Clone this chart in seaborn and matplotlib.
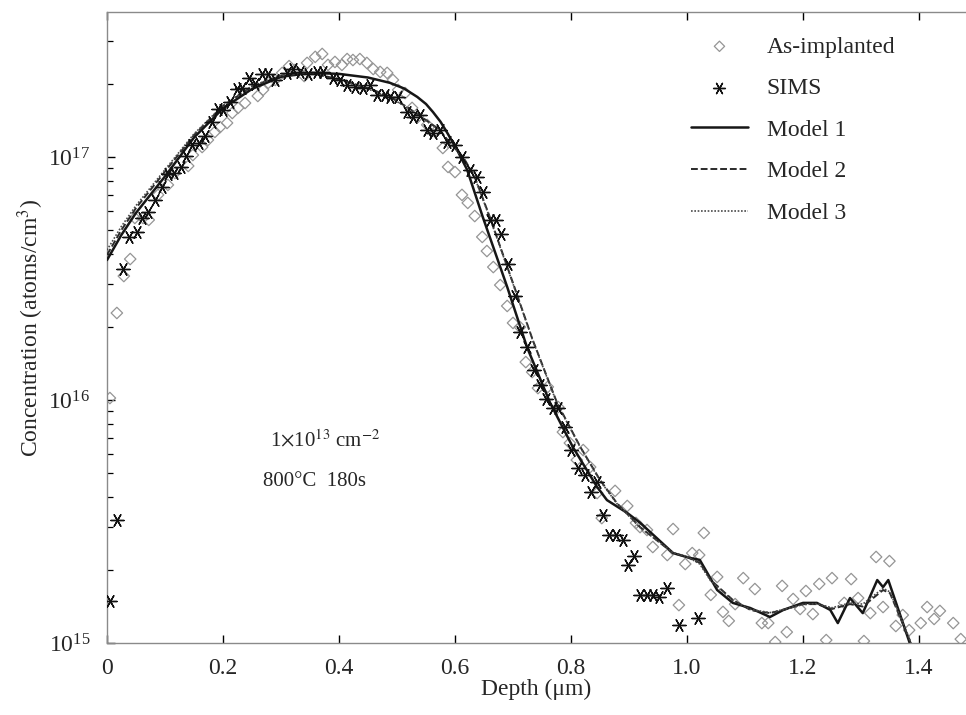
import numpy as np
import pandas as pd
import matplotlib
matplotlib.use("Agg")
import matplotlib.pyplot as plt
from matplotlib.ticker import LogLocator, LogFormatterMathtext, NullFormatter, MultipleLocator
import seaborn as sns

# --- data (depth in um, log10 of concentration in atoms/cm^3) ---
implant_depth = [0.005, 0.017, 0.029, 0.040, 0.048, 0.062, 0.072, 0.088, 0.105, 0.117,
                 0.140, 0.148, 0.164, 0.174, 0.186, 0.195, 0.207, 0.216, 0.226, 0.238,
                 0.260, 0.269, 0.278, 0.290, 0.302, 0.314, 0.324, 0.340, 0.345, 0.359,
                 0.371, 0.381, 0.393, 0.405, 0.414, 0.424, 0.436, 0.448, 0.459, 0.471,
                 0.483, 0.493, 0.502, 0.514, 0.526, 0.536, 0.552, 0.566, 0.579, 0.588,
                 0.600, 0.612, 0.622, 0.634, 0.647, 0.655, 0.666, 0.678, 0.690, 0.700,
                 0.712, 0.722, 0.733, 0.743, 0.760, 0.778, 0.786, 0.798, 0.810, 0.821,
                 0.833, 0.845, 0.853, 0.876, 0.897, 0.912, 0.919, 0.931, 0.941, 0.966,
                 0.976, 0.986, 0.997, 1.009, 1.021, 1.029, 1.041, 1.052, 1.062, 1.072,
                 1.083, 1.097, 1.117, 1.129, 1.140, 1.152, 1.164, 1.172, 1.183, 1.195,
                 1.205, 1.217, 1.228, 1.240, 1.250, 1.271, 1.283, 1.295, 1.305, 1.316,
                 1.326, 1.338, 1.349, 1.360, 1.372, 1.383, 1.403, 1.414, 1.426, 1.436,
                 1.459, 1.472]
implant_logc = [16.008, 16.358, 16.510, 16.580, 16.749, 16.749, 16.741, 16.844, 16.885, 16.934,
                16.963, 17.008, 17.041, 17.070, 17.103, 17.123, 17.140, 17.181, 17.202, 17.222,
                17.251, 17.276, 17.305, 17.317, 17.346, 17.374, 17.358, 17.333, 17.387, 17.412,
                17.424, 17.379, 17.391, 17.379, 17.403, 17.399, 17.403, 17.387, 17.362, 17.350,
                17.346, 17.317, 17.276, 17.263, 17.202, 17.165, 17.132, 17.103, 17.037, 16.959,
                16.938, 16.844, 16.811, 16.757, 16.671, 16.613, 16.547, 16.473, 16.387, 16.317,
                16.300, 16.156, 16.115, 16.049, 16.054, 15.971, 15.868, 15.823, 15.753, 15.794,
                15.724, 15.617, 15.514, 15.626, 15.564, 15.494, 15.477, 15.465, 15.395, 15.362,
                15.469, 15.156, 15.325, 15.370, 15.362, 15.453, 15.198, 15.272, 15.128, 15.091,
                15.160, 15.267, 15.222, 15.082, 15.082, 15.004, 15.235, 15.045, 15.181, 15.140,
                15.214, 15.119, 15.243, 15.012, 15.267, 15.165, 15.263, 15.185, 15.008, 15.123,
                15.354, 15.148, 15.337, 15.070, 15.115, 15.053, 15.082, 15.148, 15.099, 15.132,
                15.082, 15.016]

sims_depth = [0.005, 0.017, 0.028, 0.038, 0.052, 0.060, 0.071, 0.083, 0.095, 0.105,
              0.116, 0.128, 0.136, 0.147, 0.159, 0.169, 0.181, 0.191, 0.200, 0.212,
              0.224, 0.233, 0.245, 0.255, 0.267, 0.278, 0.290, 0.310, 0.321, 0.333,
              0.347, 0.362, 0.372, 0.390, 0.402, 0.414, 0.428, 0.441, 0.453, 0.466,
              0.479, 0.488, 0.502, 0.517, 0.528, 0.540, 0.552, 0.562, 0.574, 0.586,
              0.600, 0.612, 0.626, 0.638, 0.648, 0.660, 0.671, 0.679, 0.691, 0.703,
              0.712, 0.724, 0.736, 0.747, 0.757, 0.769, 0.778, 0.790, 0.800, 0.812,
              0.824, 0.834, 0.845, 0.855, 0.866, 0.878, 0.890, 0.898, 0.909, 0.919,
              0.931, 0.941, 0.952, 0.966, 0.986, 1.019]
sims_logc = [15.173, 15.506, 16.539, 16.671, 16.691, 16.749, 16.774, 16.823, 16.877, 16.930,
             16.934, 16.959, 17.004, 17.049, 17.058, 17.086, 17.144, 17.198, 17.193, 17.226,
             17.280, 17.284, 17.325, 17.300, 17.342, 17.342, 17.317, 17.346, 17.362, 17.350,
             17.342, 17.350, 17.350, 17.325, 17.317, 17.296, 17.288, 17.284, 17.296, 17.255,
             17.255, 17.247, 17.247, 17.185, 17.165, 17.173, 17.111, 17.099, 17.111, 17.062,
             17.049, 17.000, 16.947, 16.918, 16.856, 16.741, 16.741, 16.683, 16.560, 16.428,
             16.280, 16.218, 16.123, 16.062, 16.004, 15.967, 15.967, 15.889, 15.794, 15.720,
             15.691, 15.621, 15.663, 15.527, 15.444, 15.444, 15.424, 15.321, 15.358, 15.198,
             15.198, 15.198, 15.189, 15.226, 15.074, 15.103]

model1_depth = [0.000, 0.025, 0.050, 0.100, 0.150, 0.200, 0.250, 0.300, 0.350, 0.400,
                0.450, 0.488, 0.512, 0.535, 0.550, 0.562, 0.575, 0.586, 0.603, 0.621,
                0.648, 0.690, 0.724, 0.764, 0.803, 0.845, 0.862, 0.897, 0.919, 0.976,
                1.005, 1.022, 1.052, 1.079, 1.109, 1.143, 1.166, 1.200, 1.224, 1.247,
                1.260, 1.281, 1.303, 1.328, 1.338, 1.347, 1.384, 1.392]
model1_logc = [16.576, 16.680, 16.770, 16.920, 17.080, 17.200, 17.280, 17.330, 17.346, 17.342,
               17.327, 17.305, 17.282, 17.247, 17.218, 17.185, 17.145, 17.102, 17.032, 16.947,
               16.752, 16.465, 16.218, 15.988, 15.807, 15.642, 15.588, 15.535, 15.495, 15.370,
               15.350, 15.342, 15.218, 15.165, 15.144, 15.107, 15.136, 15.165, 15.165, 15.136,
               15.082, 15.185, 15.123, 15.259, 15.230, 15.259, 15.000, 14.950]

model2_depth = [0.000, 0.025, 0.050, 0.100, 0.150, 0.200, 0.250, 0.300, 0.350, 0.400,
                0.459, 0.488, 0.517, 0.545, 0.574, 0.591, 0.614, 0.634, 0.660, 0.700,
                0.734, 0.776, 0.816, 0.850, 0.879, 0.919, 0.976, 1.000, 1.022, 1.041,
                1.079, 1.110, 1.143, 1.166, 1.200, 1.224, 1.250, 1.281, 1.303, 1.338,
                1.350, 1.384, 1.392]
model2_logc = [16.597, 16.700, 16.790, 16.940, 17.090, 17.210, 17.290, 17.335, 17.346, 17.320,
               17.276, 17.247, 17.206, 17.160, 17.111, 17.058, 17.000, 16.918, 16.753, 16.481,
               16.247, 15.988, 15.807, 15.671, 15.576, 15.477, 15.370, 15.354, 15.330, 15.259,
               15.177, 15.135, 15.123, 15.136, 15.160, 15.160, 15.140, 15.160, 15.150, 15.218,
               15.205, 15.010, 14.950]

model3_depth = [0.000, 0.025, 0.050, 0.100, 0.150, 0.200, 0.250, 0.300, 0.350, 0.400,
                0.459, 0.488, 0.517, 0.545, 0.574, 0.591, 0.614, 0.634, 0.660, 0.700,
                0.734, 0.776, 0.816, 0.850, 0.879, 0.919, 0.976, 1.000, 1.022, 1.041,
                1.079, 1.110, 1.143, 1.166, 1.200, 1.224, 1.250, 1.281, 1.303, 1.338,
                1.350, 1.384, 1.392]
model3_logc = [16.617, 16.715, 16.800, 16.948, 17.095, 17.212, 17.292, 17.336, 17.346, 17.318,
               17.272, 17.244, 17.204, 17.158, 17.108, 17.056, 16.998, 16.915, 16.750, 16.478,
               16.245, 15.985, 15.805, 15.668, 15.574, 15.475, 15.372, 15.356, 15.325, 15.255,
               15.175, 15.138, 15.125, 15.138, 15.158, 15.162, 15.145, 15.165, 15.160, 15.225,
               15.210, 15.015, 14.950]

implant = pd.DataFrame({"depth": implant_depth, "conc": 10 ** np.array(implant_logc)})
sims = pd.DataFrame({"depth": sims_depth, "conc": 10 ** np.array(sims_logc)})
m1 = pd.DataFrame({"depth": model1_depth, "conc": 10 ** np.array(model1_logc)})
m2 = pd.DataFrame({"depth": model2_depth, "conc": 10 ** np.array(model2_logc)})
m3 = pd.DataFrame({"depth": model3_depth, "conc": 10 ** np.array(model3_logc)})

sns.set_style("ticks")
plt.rcParams["font.family"] = ["Liberation Serif", "DejaVu Serif"]
plt.rcParams["mathtext.fontset"] = "stix"

fig = plt.figure(figsize=(9.66, 7.15), dpi=100)
ax = fig.add_axes([107 / 966, 72 / 715, 859 / 966, 631 / 715])

asterisk = (6, 2, 90)
sns.scatterplot(data=implant, x="depth", y="conc", marker="D", s=34, facecolor="none",
                edgecolor="#959595", linewidth=0.9, ax=ax, label="As-implanted", zorder=2)
sns.lineplot(data=m1, x="depth", y="conc", color="#161616", lw=1.8, sort=False,
             estimator=None, ax=ax, label="Model 1", zorder=3)
sns.lineplot(data=m2, x="depth", y="conc", color="#2a2a2a", lw=1.4, sort=False,
             estimator=None, ax=ax, label="Model 2", zorder=3)
sns.lineplot(data=m3, x="depth", y="conc", color="#4a4a4a", lw=1.2, sort=False,
             estimator=None, ax=ax, label="Model 3", zorder=3)
ax.lines[1].set_dashes([3.5, 1.5])
ax.lines[2].set_dashes([1, 1])
sns.scatterplot(data=sims, x="depth", y="conc", marker=asterisk, s=90, color="#111111",
                linewidth=1.0, ax=ax, label="SIMS", zorder=4)

ax.set_yscale("log")
ax.set_xlim(0, 1.481)
ax.set_ylim(1e15, 3.95e17)

ax.xaxis.set_major_locator(MultipleLocator(0.2))
ax.xaxis.set_major_formatter(plt.FuncFormatter(lambda v, p: "0" if abs(v) < 1e-9 else f"{v:.1f}"))
ax.yaxis.set_major_locator(LogLocator(base=10))
ax.yaxis.set_major_formatter(LogFormatterMathtext())
ax.yaxis.set_minor_locator(LogLocator(base=10, subs=np.arange(2, 10)))
ax.yaxis.set_minor_formatter(NullFormatter())

ax.tick_params(axis="both", which="major", direction="in", length=6, width=1.0,
               color="black", labelsize=17, top=True, right=False)
ax.tick_params(axis="x", which="major", pad=11)
ax.tick_params(axis="y", which="major", pad=12)
ax.tick_params(axis="y", which="minor", direction="in", length=4, width=0.9, color="black")
for side in ["left", "bottom", "top"]:
    ax.spines[side].set_color("#8a8a8a")
    ax.spines[side].set_linewidth(1.0)
ax.spines["right"].set_visible(False)

ax.set_xlabel("Depth (\u03bcm)", fontsize=17, labelpad=0)
ax.set_ylabel("Concentration (atoms/cm$^3$)", fontsize=17, labelpad=2)

ax.text(0.281, 10 ** 15.807, r"1$\times$10$^{13}$ cm$^{-2}$", fontsize=15, va="baseline", ha="left")
ax.text(0.269, 10 ** 15.646, "800\u00b0C  180s", fontsize=15, va="baseline", ha="left")

handles, labels = ax.get_legend_handles_labels()
order = [labels.index(n) for n in ["As-implanted", "SIMS", "Model 1", "Model 2", "Model 3"]]
ax.legend([handles[i] for i in order], [labels[i] for i in order],
          loc="upper left", bbox_to_anchor=(0.68, 0.962), frameon=False, fontsize=17,
          handlelength=2.4, handletextpad=0.8, labelspacing=0.85, borderpad=0, borderaxespad=0,
          markerscale=0.9)

fig.savefig("out.png", dpi=100)
